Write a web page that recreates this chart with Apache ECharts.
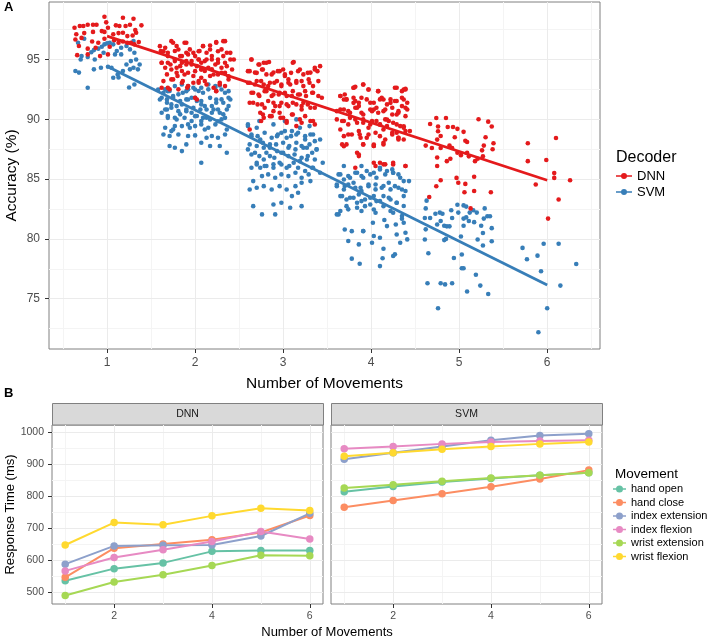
<!DOCTYPE html>
<html><head><meta charset="utf-8">
<script src="https://cdn.jsdelivr.net/npm/echarts@6/dist/echarts.min.js"></script>
<style>html,body{margin:0;padding:0;background:#fff}#c{width:708px;height:639px}</style>
</head><body><div id="c"></div>
<script>
// ---------- Panel A : accuracy per number of movements (jittered points) ----------
const dnnG1 = [[0.97,98.57],[1.18,98.48],[1.30,98.4],[0.63,97.65],[0.69,97.8],[0.73,97.8],[0.78,97.9],[0.84,97.9],[0.88,97.9],[0.99,98.1],[1.01,97.65],[1.10,97.85],[1.14,97.8],[1.21,97.8],[1.26,97.9],[1.32,97.45],[1.39,97.85],[0.65,97.1],[0.74,97.2],[0.84,97.3],[0.94,97.37],[0.97,97.3],[1.07,97.1],[1.13,97.2],[1.18,97.23],[1.23,96.95],[1.29,97.0],[1.33,97.23],[0.64,96.67],[0.71,96.8],[0.83,96.5],[0.90,96.4],[0.97,96.73],[1.08,96.6],[1.18,96.5],[1.23,96.4],[1.31,96.26],[1.36,96.45],[0.68,96.12],[0.78,95.9],[0.87,95.98],[1.03,96.06],[0.92,95.28],[0.66,95.36],[0.78,95.42],[1.01,95.42],[1.27,96.4],[1.13,96.4]];
const svmG1 = [[0.67,96.4],[0.74,96.73],[0.71,95.28],[0.78,95.2],[0.82,95.6],[0.85,95.78],[0.90,95.9],[0.94,96.06],[0.97,96.26],[1.00,96.34],[1.03,96.4],[1.07,96.26],[1.11,95.7],[1.16,95.98],[1.22,96.12],[1.26,95.84],[1.30,96.54],[1.31,95.56],[1.33,95.0],[1.37,94.58],[1.35,94.17],[1.26,94.17],[1.18,94.03],[1.12,93.75],[1.07,93.47],[1.05,94.3],[1.01,94.39],[0.93,94.3],[0.85,94.17],[0.78,92.63],[0.64,94.03],[0.68,93.9],[0.70,95.0],[1.09,95.42],[1.27,94.86],[1.31,92.91],[1.22,94.58],[0.86,95.0],[0.96,95.56],[1.16,95.42],[1.30,94.3],[1.25,92.66],[1.13,93.5]];
const dnnG2 = [[1.73,96.53],[1.79,96.12],[1.88,96.4],[1.66,95.98],[1.61,95.7],[1.69,95.28],[1.77,95.7],[1.83,95.28],[1.90,95.56],[1.94,95.84],[2.00,95.28],[2.05,95.7],[2.09,96.12],[2.17,96.17],[2.24,96.45],[2.32,96.53],[2.30,95.84],[2.36,95.56],[2.40,95.0],[2.34,94.72],[2.26,95.0],[2.19,95.28],[2.13,95.0],[2.07,94.72],[2.02,94.44],[1.96,94.58],[1.90,94.86],[1.85,94.72],[1.79,94.3],[1.72,94.58],[1.66,94.3],[1.62,94.72],[1.68,93.75],[1.73,93.33],[1.80,93.61],[1.86,93.19],[1.92,93.89],[1.98,93.61],[2.04,93.19],[2.11,94.03],[2.19,94.17],[2.26,93.75],[2.34,93.89],[2.38,93.33],[2.28,92.91],[2.21,92.63],[2.13,92.91],[2.07,93.47],[1.71,92.5],[1.81,92.5],[2.00,91.8],[1.98,93.05],[1.91,92.63],[1.62,92.63],[2.24,92.36],[2.04,95.0],[2.13,95.56],[2.23,94.58],[1.85,94.03],[1.77,95.0],[2.30,94.3],[2.07,94.17],[2.17,93.61]];
const dnnG2b = [[1.60,96.11],[1.64,95.69],[1.69,95.55],[1.75,96.39],[1.81,95.83],[1.90,96.39],[1.85,95.28],[1.92,95.42],[1.98,95.55],[2.04,95.69],[2.09,96.11],[2.17,95.83],[2.24,96.39],[2.34,96.53],[2.26,95.69],[2.32,95.28],[2.40,95.55],[2.44,95.0],[1.62,94.72],[1.69,94.72],[1.77,94.86],[1.83,94.44],[1.90,94.58],[1.96,94.86],[2.04,95.0],[2.11,94.86],[2.19,95.0],[2.26,94.72],[2.36,94.44],[2.42,94.16],[1.73,94.16],[1.79,93.88],[1.88,93.74],[2.00,94.02],[2.07,94.16],[2.15,94.3],[2.21,93.74],[2.30,93.88],[2.38,93.6],[1.64,93.19],[1.75,93.33],[1.85,93.05],[2.04,93.05],[2.11,93.19],[2.28,93.05],[2.34,92.77],[1.69,92.63],[1.92,92.77],[2.24,92.35],[2.02,91.65]];
const svmG2 = [[1.66,92.5],[1.71,92.36],[1.62,91.8],[1.68,91.66],[1.75,91.94],[1.81,92.08],[1.86,92.22],[1.92,92.5],[1.98,92.63],[2.04,92.36],[2.09,92.22],[2.15,92.5],[2.23,92.63],[2.28,92.83],[2.34,92.22],[2.38,91.8],[2.30,91.66],[2.24,91.38],[2.19,91.1],[2.13,90.82],[2.07,91.24],[2.02,91.52],[1.96,91.8],[1.90,91.66],[1.85,91.24],[1.79,91.1],[1.73,91.24],[1.68,90.82],[1.62,90.55],[1.69,90.27],[1.77,90.13],[1.83,90.41],[1.90,90.68],[1.96,90.55],[2.02,90.27],[2.07,89.85],[2.13,90.13],[2.19,90.55],[2.26,90.82],[2.32,90.41],[2.38,91.1],[2.30,89.99],[2.23,89.57],[2.15,89.29],[2.07,89.57],[2.00,89.43],[1.92,89.57],[1.85,89.43],[1.75,89.15],[1.66,89.29],[1.64,88.73],[1.71,88.6],[1.81,88.73],[1.92,88.6],[2.00,88.65],[2.13,88.46],[2.19,88.6],[2.34,88.73],[1.71,87.76],[1.77,87.62],[1.90,87.9],[2.07,88.04],[2.17,87.76],[2.28,87.76],[2.36,87.2],[2.07,86.37],[1.85,87.34],[1.73,89.01],[1.96,89.85],[2.26,88.46]];
const svmG2b = [[1.58,92.49],[1.64,92.21],[1.69,92.35],[1.77,92.77],[1.85,92.91],[1.92,92.77],[1.90,92.35],[2.00,92.49],[2.07,92.63],[2.15,92.91],[2.23,92.77],[2.30,92.49],[2.38,92.35],[1.60,91.65],[1.68,91.38],[1.75,91.79],[1.83,91.52],[1.92,91.65],[2.00,91.79],[2.07,91.52],[2.17,91.79],[2.24,91.65],[2.32,91.38],[2.40,91.65],[1.66,90.82],[1.73,90.96],[1.81,90.68],[1.90,90.82],[1.98,90.96],[2.06,90.82],[2.11,91.1],[2.21,90.82],[2.28,90.54],[2.36,90.82],[1.69,90.12],[1.79,89.98],[1.88,90.12],[2.00,90.26],[2.09,90.12],[2.17,89.98],[2.26,89.84],[2.34,90.12],[1.77,89.43],[1.94,89.29],[2.11,89.15],[2.36,89.15]];
const dnnG3 = [[2.64,95.0],[2.72,94.58],[2.78,94.72],[2.84,94.78],[3.12,94.78],[2.60,94.02],[2.68,93.9],[2.76,94.16],[2.81,93.75],[2.89,93.9],[2.96,94.02],[3.02,93.75],[3.06,93.33],[3.00,94.16],[3.17,94.02],[3.23,93.75],[3.31,93.9],[3.36,94.3],[3.39,94.02],[2.62,93.05],[2.70,93.19],[2.78,92.91],[2.85,93.05],[2.93,93.19],[2.98,92.77],[3.08,92.91],[3.15,93.05],[3.21,93.19],[3.29,93.33],[3.34,92.77],[2.64,92.21],[2.72,92.07],[2.79,92.35],[2.87,91.94],[2.95,92.07],[3.02,92.21],[3.10,91.94],[3.17,92.07],[3.25,92.35],[3.33,92.21],[3.40,91.94],[2.66,91.38],[2.76,91.24],[2.83,91.52],[2.91,91.1],[2.98,91.38],[3.06,91.1],[3.15,91.24],[3.23,91.38],[3.31,90.96],[2.74,90.54],[2.85,90.26],[2.97,90.12],[3.10,90.4],[3.19,89.99],[3.31,89.85],[3.36,89.57],[2.62,89.15],[2.78,90.12],[3.04,89.85],[3.21,90.82],[2.89,90.68],[3.15,89.43]];
const dnnG3b = [[2.64,95.0],[2.73,94.58],[2.81,94.72],[3.11,94.72],[2.62,94.02],[2.70,93.88],[2.77,94.16],[2.87,93.75],[2.94,94.02],[3.02,93.61],[3.09,93.88],[3.19,94.16],[3.28,93.88],[3.36,94.16],[3.42,94.44],[2.60,93.05],[2.68,92.91],[2.75,93.19],[2.83,92.77],[2.90,93.05],[2.98,92.91],[3.06,93.05],[3.15,93.19],[3.23,92.77],[3.30,93.05],[3.40,93.19],[2.66,92.21],[2.73,91.94],[2.81,92.35],[2.89,92.07],[2.96,92.21],[3.04,91.94],[3.11,92.35],[3.19,92.07],[3.26,91.94],[3.34,92.21],[3.44,91.8],[2.62,91.38],[2.71,91.24],[2.79,90.96],[2.89,91.38],[2.96,91.1],[3.04,91.24],[3.11,91.38],[3.21,91.1],[3.28,91.24],[3.36,90.96],[2.77,90.4],[2.87,90.26],[2.96,90.54],[3.11,90.4],[3.25,90.26],[3.34,89.85],[2.75,89.85],[3.04,89.71],[3.21,89.71],[3.00,90.12]];
const svmG3 = [[2.60,89.57],[2.70,89.29],[2.64,88.59],[2.74,88.31],[2.60,87.48],[2.68,87.2],[2.78,87.62],[2.85,87.9],[2.93,88.59],[2.98,88.87],[3.04,88.45],[3.10,89.01],[3.15,88.73],[3.19,89.29],[3.25,88.31],[3.31,88.73],[3.36,88.17],[3.38,87.48],[3.33,87.2],[3.27,87.62],[3.21,87.76],[3.14,87.48],[3.06,87.62],[3.00,87.2],[2.93,87.34],[2.85,86.92],[2.78,86.64],[2.70,86.36],[2.64,85.95],[2.74,85.95],[2.81,86.09],[2.89,86.23],[2.96,86.36],[3.04,85.95],[3.12,86.36],[3.19,86.5],[3.27,86.64],[3.33,85.95],[3.29,85.39],[3.21,85.11],[3.14,85.53],[3.06,85.25],[2.98,85.39],[2.91,85.11],[2.83,85.39],[2.76,85.25],[2.66,84.83],[2.62,84.13],[2.70,84.28],[2.78,84.41],[2.87,84.13],[2.96,84.41],[3.04,84.13],[3.14,84.41],[3.21,84.69],[3.10,83.58],[3.17,83.86],[2.89,82.88],[2.98,83.02],[2.66,82.74],[2.76,82.05],[2.91,82.05],[3.08,82.6],[3.21,82.74],[3.31,84.83]];
const svmG3b = [[2.60,89.43],[2.73,89.85],[2.89,89.57],[3.02,89.85],[3.15,89.99],[3.30,89.43],[2.64,88.73],[2.71,88.59],[2.79,88.87],[2.87,88.45],[2.94,88.73],[3.02,89.01],[3.09,88.59],[3.17,88.87],[3.25,88.59],[3.34,88.73],[3.42,88.31],[2.62,87.9],[2.70,87.76],[2.77,88.04],[2.85,87.62],[2.92,87.9],[3.00,88.04],[3.07,87.76],[3.15,88.04],[3.23,87.62],[3.30,87.9],[3.38,87.48],[2.64,87.06],[2.73,86.92],[2.81,87.2],[2.90,86.78],[2.98,87.2],[3.06,86.92],[3.13,87.06],[3.21,86.78],[3.28,86.92],[3.36,86.64],[3.45,86.36],[2.70,86.22],[2.79,86.09],[2.89,85.95],[2.98,86.22],[3.07,86.09],[3.17,85.95],[3.25,85.67],[3.34,85.95],[3.42,85.53]];
const dnnG4 = [[3.82,92.71],[3.91,92.91],[4.08,92.35],[4.37,92.49],[3.65,91.94],[3.72,91.66],[3.70,92.07],[3.80,91.8],[3.86,91.38],[3.95,91.66],[4.03,91.38],[4.12,91.8],[4.22,91.66],[4.29,91.52],[4.35,91.1],[3.65,90.82],[3.74,90.68],[3.82,90.96],[3.89,90.54],[3.99,90.82],[4.06,90.96],[4.14,90.68],[4.24,90.96],[4.31,90.54],[4.39,90.26],[3.61,89.99],[3.69,89.85],[3.76,90.12],[3.84,89.71],[3.91,89.99],[3.99,89.57],[4.06,89.85],[4.16,89.99],[4.25,89.71],[4.33,89.43],[4.39,89.01],[3.65,89.15],[3.74,88.73],[3.86,89.01],[3.95,88.45],[4.05,88.87],[4.14,89.15],[4.24,88.87],[4.31,88.45],[3.72,87.9],[3.91,87.9],[4.03,87.76],[4.14,88.03],[4.37,88.31],[3.86,86.92],[3.82,85.95],[4.05,86.09],[4.16,86.23],[4.39,86.09],[3.97,89.29],[4.18,89.43],[3.80,92.63],[3.97,92.49],[4.14,91.65],[4.27,92.63],[4.35,92.35],[4.39,92.54],[3.69,91.65],[3.80,91.37],[3.86,91.1],[4.03,90.82],[4.22,91.37],[4.37,91.65],[4.41,90.82],[4.29,90.4],[4.18,89.98],[4.37,89.42],[4.29,88.87],[4.10,89.56],[3.87,88.73],[4.03,87.89],[4.16,88.31],[4.31,88.31],[3.84,87.2],[3.69,87.75],[4.10,86.36],[4.25,86.22]];
const dnnG4b = [[3.80,92.63],[3.91,92.91],[3.97,92.49],[4.08,92.35],[4.29,92.63],[4.39,92.49],[3.65,91.94],[3.72,91.66],[3.82,91.52],[3.89,91.8],[3.99,91.38],[4.10,91.66],[4.18,91.24],[4.27,91.52],[4.35,91.8],[4.41,91.38],[3.61,90.68],[3.69,90.82],[3.76,90.54],[3.84,90.96],[3.91,90.4],[4.01,90.68],[4.08,90.54],[4.16,90.82],[4.24,90.4],[4.31,90.68],[4.39,90.96],[3.67,89.85],[3.74,89.57],[3.82,89.99],[3.91,89.71],[4.01,89.85],[4.10,89.57],[4.20,89.85],[4.29,89.57],[4.37,89.29],[4.44,89.01],[3.69,88.59],[3.78,88.73],[3.88,88.45],[3.97,88.73],[4.10,88.59],[4.24,88.73],[4.31,88.45],[3.67,87.9],[3.91,87.9],[4.03,87.76],[4.14,87.9],[3.86,87.06],[4.03,86.37],[4.14,86.23],[4.25,86.37],[4.39,86.09]];
const svmG4 = [[3.63,85.39],[3.69,84.97],[3.76,85.11],[3.84,85.53],[3.89,85.25],[3.95,85.67],[4.03,85.53],[4.10,85.81],[4.18,85.67],[4.25,85.53],[4.31,85.39],[4.37,84.83],[3.61,84.41],[3.69,84.13],[3.74,84.55],[3.82,84.28],[3.89,84.0],[3.97,84.41],[4.05,84.55],[4.12,84.28],[4.20,84.69],[4.27,84.41],[4.35,84.13],[3.65,83.58],[3.72,83.3],[3.80,83.44],[3.89,83.16],[3.99,83.44],[4.06,83.16],[4.14,83.58],[4.22,83.3],[4.29,83.02],[4.37,83.58],[3.63,82.05],[3.72,82.74],[3.84,82.6],[3.93,82.74],[4.03,82.46],[4.14,82.74],[4.25,82.19],[4.37,81.35],[3.70,80.79],[3.78,80.65],[3.91,80.65],[4.03,80.24],[4.18,81.07],[4.29,80.37],[3.74,79.82],[3.86,79.54],[3.61,82.05],[3.78,78.35],[3.87,77.93],[4.10,77.73],[4.13,78.38],[4.14,79.18],[4.25,78.57],[4.27,78.71],[4.33,79.68],[4.41,79.96],[4.39,80.52],[4.01,79.68],[4.10,80.1],[4.15,81.58],[4.28,81.2],[4.35,81.69],[4.02,81.35],[3.91,80.66]];
const svmG4b = [[3.69,86.09],[3.89,86.09],[4.10,85.95],[4.24,85.81],[3.65,85.39],[3.74,85.25],[3.82,85.53],[3.91,85.11],[3.99,85.39],[4.06,85.11],[4.16,85.39],[4.25,85.53],[4.33,85.11],[4.43,84.83],[3.61,84.55],[3.70,84.42],[3.80,84.69],[3.88,84.28],[3.97,84.55],[4.05,84.14],[4.14,84.42],[4.22,84.14],[4.31,84.28],[4.39,84.0],[3.67,83.58],[3.76,83.44],[3.86,83.72],[3.93,83.3],[4.03,83.58],[4.10,83.16],[4.20,83.44],[4.29,83.02],[4.37,82.75],[3.84,83.02],[3.99,82.88],[3.65,82.33],[3.74,82.47],[3.89,82.33],[4.05,82.19],[4.22,82.33],[4.35,81.91]];
const dnnG5 = [[4.74,90.1],[4.85,90.1],[4.67,89.6],[4.76,89.4],[4.76,89.0],[4.87,89.35],[4.93,89.35],[4.98,89.2],[5.05,88.95],[5.22,90.0],[5.33,89.8],[5.37,89.4],[4.79,88.6],[4.75,88.3],[4.95,88.5],[5.07,88.2],[5.09,88.1],[5.30,88.5],[4.62,87.8],[4.69,87.6],[4.79,87.6],[4.89,87.8],[4.92,87.6],[4.98,87.2],[5.02,87.0],[5.09,87.2],[5.11,86.9],[5.18,86.5],[5.21,86.7],[5.26,87.4],[5.28,87.8],[5.27,86.9],[5.39,88.0],[5.38,87.5],[4.75,86.8],[4.86,86.5],[4.90,86.7],[4.75,86.1],[4.79,84.9],[4.74,84.4],[4.97,85.1],[4.99,84.7],[5.07,84.6],[5.17,85.2],[4.66,83.5],[5.06,83.9],[5.17,84.0],[5.36,83.9],[5.13,82.55]];
const svmG5 = [[4.63,83.2],[4.62,82.55],[4.61,81.75],[4.67,81.75],[4.62,80.8],[4.61,79.95],[4.65,78.8],[4.64,76.3],[4.76,74.2],[4.73,82.1],[4.78,82.2],[4.81,82.1],[4.75,81.2],[4.79,81.5],[4.83,81.1],[4.86,81.05],[4.89,81.05],[4.91,82.4],[4.92,81.75],[4.98,82.85],[4.99,82.2],[4.83,79.9],[4.85,80.0],[4.94,78.4],[4.79,76.3],[4.84,76.2],[4.92,76.3],[5.02,80.2],[5.03,78.7],[5.03,77.55],[5.05,77.55],[5.05,82.8],[5.08,82.7],[5.05,81.7],[5.08,81.8],[5.05,81.1],[5.11,81.5],[5.12,82.2],[5.17,81.4],[5.16,82.4],[5.20,82.2],[5.29,82.55],[5.28,81.7],[5.32,81.9],[5.35,81.9],[5.25,81.1],[5.37,80.9],[5.27,80.5],[5.21,79.95],[5.27,79.45],[5.37,79.8],[5.19,77.0],[5.09,75.6],[5.24,76.1],[5.33,75.4]];
const dnnG6 = [[5.78,88.0],[6.10,88.44],[5.78,86.5],[5.99,86.6],[6.08,85.5],[6.08,85.1],[6.26,84.9],[5.87,84.55],[6.13,83.3],[6.01,81.7]];
const svmG6 = [[5.72,79.25],[5.96,79.6],[6.13,79.6],[5.77,78.3],[5.89,78.6],[6.33,77.9],[5.93,77.3],[6.15,76.1],[6.00,74.2],[5.90,72.2]];
// linear fits (accuracy at 1 and 6 movements)
const dnnFit = [[1, 96.95], [6, 84.9]];
const svmFit = [[1, 94.44], [6, 76.14]];
const accTicks = [75, 80, 85, 90, 95];
const accMinor = [72.5, 77.5, 82.5, 87.5, 92.5, 97.5];
const moveTicks = [1, 2, 3, 4, 5, 6];
const moveMinor = [0.5, 1.5, 2.5, 3.5, 4.5, 5.5, 6.5];

// ---------- Panel B : response time ----------
const movements = ['hand open', 'hand close', 'index extension', 'index flexion', 'wrist extension', 'wrist flexion'];
const nMoves = [1, 2, 3, 4, 5, 6];
const rtDNN = {
  'hand open':       [535, 573, 591, 627, 630, 630],
  'hand close':      [546, 637, 650, 663, 686, 739],
  'index extension': [587, 644, 646, 647, 675, 746],
  'index flexion':   [566, 608, 632, 658, 689, 666],
  'wrist extension': [489, 531, 554, 583, 615, 613],
  'wrist flexion':   [647, 717, 710, 738, 762, 755]
};
const rtSVM = {
  'hand open':       [813, 830, 844, 855, 865, 873],
  'hand close':      [765, 786, 807, 829, 853, 881],
  'index extension': [915, 935, 955, 974, 989, 995],
  'index flexion':   [948, 955, 963, 969, 972, 974],
  'wrist extension': [825, 835, 846, 856, 865, 873],
  'wrist flexion':   [924, 935, 946, 955, 963, 969]
};
const rtTicks = [500, 600, 700, 800, 900, 1000];
const rtMinor = [550, 650, 750, 850, 950];
const rtXTicks = [2, 4, 6];
const rtXMinor = [1, 3, 5];

// ---------- styles ----------
const FONT = 'Liberation Sans, Arial, sans-serif';
const RED = '#E41A1C', BLUE = '#377EB8';
const SET2 = ['#66C2A5', '#FC8D62', '#8DA0CB', '#E78AC3', '#A6D854', '#FFD92F'];
const GRID_MAJOR = '#ebebeb', GRID_MINOR = '#f4f4f4';
const TICK = '#333333', LABEL = '#4d4d4d';

function gridLines(xMaj, xMin, yMaj, yMin) {
  const d = [];
  xMin.forEach(v => d.push({ xAxis: v, lineStyle: { color: GRID_MINOR, width: 1, type: 'solid' } }));
  yMin.forEach(v => d.push({ yAxis: v, lineStyle: { color: GRID_MINOR, width: 1, type: 'solid' } }));
  xMaj.forEach(v => d.push({ xAxis: v, lineStyle: { color: GRID_MAJOR, width: 1, type: 'solid' } }));
  yMaj.forEach(v => d.push({ yAxis: v, lineStyle: { color: GRID_MAJOR, width: 1, type: 'solid' } }));
  return { silent: true, symbol: ['none', 'none'], label: { show: false }, z: 1, animation: false, data: d };
}

function valueAxis(o) {
  return Object.assign({
    type: 'value', scale: true,
    axisLine: { show: false },
    splitLine: { show: false },
    axisTick: { show: true, length: 4, lineStyle: { color: TICK } },
    axisLabel: { color: LABEL, fontFamily: FONT }
  }, o);
}
const plain = v => String(v);

const chart = echarts.init(document.getElementById('c'), null, { renderer: 'canvas' });

const series = [];
// grid lines (panel A)
series.push({ type: 'line', xAxisIndex: 0, yAxisIndex: 0, data: [], silent: true, markLine: gridLines(moveTicks, moveMinor, accTicks, accMinor) });
const svmAll = [svmG1, svmG2, svmG2b, svmG3, svmG3b, svmG4, svmG4b, svmG5, svmG6];
const dnnAll = [dnnG1, dnnG2, dnnG2b, dnnG3, dnnG3b, dnnG4, dnnG4b, dnnG5, dnnG6];
svmAll.forEach(g => series.push({ type: 'scatter', name: 'SVM', xAxisIndex: 0, yAxisIndex: 0, data: g, symbolSize: 4.6, itemStyle: { color: BLUE, opacity: 1 }, z: 3, silent: true }));
dnnAll.forEach(g => series.push({ type: 'scatter', name: 'DNN', xAxisIndex: 0, yAxisIndex: 0, data: g, symbolSize: 4.6, itemStyle: { color: RED, opacity: 1 }, z: 3, silent: true }));
series.push({ type: 'line', name: 'DNN', xAxisIndex: 0, yAxisIndex: 0, data: dnnFit, showSymbol: false, lineStyle: { color: RED, width: 2.8 }, itemStyle: { color: RED }, z: 4, silent: true });
series.push({ type: 'line', name: 'SVM', xAxisIndex: 0, yAxisIndex: 0, data: svmFit, showSymbol: false, lineStyle: { color: BLUE, width: 2.8 }, itemStyle: { color: BLUE }, z: 4, silent: true });

// panel B grid lines
series.push({ type: 'line', xAxisIndex: 1, yAxisIndex: 1, data: [], silent: true, markLine: gridLines(rtXTicks, rtXMinor, rtTicks, rtMinor) });
series.push({ type: 'line', xAxisIndex: 2, yAxisIndex: 2, data: [], silent: true, markLine: gridLines(rtXTicks, rtXMinor, rtTicks, rtMinor) });
movements.forEach((m, i) => {
  const common = { type: 'line', name: m, symbol: 'circle', symbolSize: 7.5, showSymbol: true,
    lineStyle: { color: SET2[i], width: 2 }, itemStyle: { color: SET2[i] }, z: 3, silent: true };
  series.push(Object.assign({}, common, { xAxisIndex: 1, yAxisIndex: 1, data: nMoves.map((n, k) => [n, rtDNN[m][k]]) }));
  series.push(Object.assign({}, common, { xAxisIndex: 2, yAxisIndex: 2, data: nMoves.map((n, k) => [n, rtSVM[m][k]]) }));
});

const iconA = 'path://M0,2.3H16V3.7H0Z M5,3A3,3,0,1,1,11,3A3,3,0,1,1,5,3Z';
const iconB = 'path://M0,3H13V4.4H0Z M3,3.7A3.5,3.5,0,1,1,10,3.7A3.5,3.5,0,1,1,3,3.7Z';

const gridBase = { show: true, borderColor: '#808080', borderWidth: 1, backgroundColor: 'transparent', containLabel: false, outerBoundsMode: 'none' };
const option = {
  animation: false,
  backgroundColor: '#ffffff',
  textStyle: { fontFamily: FONT },
  grid: [
    Object.assign({ left: 49, top: 2, width: 551, height: 347 }, gridBase),
    Object.assign({ left: 52, top: 425, width: 271, height: 179 }, gridBase),
    Object.assign({ left: 331, top: 425, width: 271, height: 179 }, gridBase)
  ],
  xAxis: [
    valueAxis({ gridIndex: 0, min: 0.34, max: 6.6,
      name: 'Number of Movements', nameLocation: 'middle', nameGap: 27,
      nameTextStyle: { fontSize: 15.5, color: '#000', fontFamily: FONT },
      axisTick: { show: true, length: 4, lineStyle: { color: TICK }, customValues: moveTicks },
      axisLabel: { color: LABEL, fontSize: 12, margin: 8, fontFamily: FONT, customValues: moveTicks, formatter: plain } }),
    valueAxis({ gridIndex: 1, min: 0.73, max: 6.27,
      axisTick: { show: true, length: 4, lineStyle: { color: TICK }, customValues: rtXTicks },
      axisLabel: { color: LABEL, fontSize: 10.5, margin: 7, fontFamily: FONT, customValues: rtXTicks, formatter: plain } }),
    valueAxis({ gridIndex: 2, min: 0.73, max: 6.27,
      axisTick: { show: true, length: 4, lineStyle: { color: TICK }, customValues: rtXTicks },
      axisLabel: { color: LABEL, fontSize: 10.5, margin: 7, fontFamily: FONT, customValues: rtXTicks, formatter: plain } })
  ],
  yAxis: [
    valueAxis({ gridIndex: 0, min: 70.8, max: 99.8,
      name: 'Accuracy (%)', nameLocation: 'middle', nameGap: 29, nameMoveOverlap: false,
      nameTextStyle: { fontSize: 15.5, color: '#000', fontFamily: FONT },
      axisTick: { show: true, length: 4, lineStyle: { color: TICK }, customValues: accTicks },
      axisLabel: { color: LABEL, fontSize: 12, margin: 9, fontFamily: FONT, customValues: accTicks, formatter: plain } }),
    valueAxis({ gridIndex: 1, min: 462.5, max: 1022,
      name: 'Response Time (ms)', nameLocation: 'middle', nameGap: 35, nameMoveOverlap: false,
      nameTextStyle: { fontSize: 13, color: '#000', fontFamily: FONT },
      axisTick: { show: true, length: 4, lineStyle: { color: TICK }, customValues: rtTicks },
      axisLabel: { color: LABEL, fontSize: 10.5, margin: 8, fontFamily: FONT, customValues: rtTicks, formatter: plain } }),
    valueAxis({ gridIndex: 2, min: 462.5, max: 1022,
      axisTick: { show: false }, axisLabel: { show: false } })
  ],
  legend: [
    { data: [{ name: 'DNN', icon: iconA }, { name: 'SVM', icon: iconA }],
      orient: 'vertical', left: 616, top: 169, itemWidth: 16, itemHeight: 6, itemGap: 2, padding: 0,
      selectedMode: false, textStyle: { fontSize: 13, lineHeight: 14, color: '#000', fontFamily: FONT } },
    { data: movements.map(m => ({ name: m, icon: iconB })),
      orient: 'vertical', left: 613, top: 483, itemWidth: 13, itemHeight: 7, itemGap: 1.5, padding: 0,
      selectedMode: false, textStyle: { fontSize: 11, lineHeight: 12, color: '#000', fontFamily: FONT } }
  ],
  graphic: [
    { type: 'text', x: 4, y: 1, style: { text: 'A', font: 'bold 13px ' + FONT, fill: '#000' } },
    { type: 'text', x: 4, y: 387, style: { text: 'B', font: 'bold 13px ' + FONT, fill: '#000' } },
    { type: 'text', x: 616, y: 158, style: { text: 'Decoder', font: '16px ' + FONT, fill: '#000', verticalAlign: 'middle', textVerticalAlign: 'middle' } },
    { type: 'text', x: 615, y: 474, style: { text: 'Movement', font: '13.5px ' + FONT, fill: '#000', verticalAlign: 'middle', textVerticalAlign: 'middle' } },
    { type: 'rect', shape: { x: 52.5, y: 403.5, width: 271, height: 21.5 }, style: { fill: '#d9d9d9', stroke: '#808080', lineWidth: 1 } },
    { type: 'rect', shape: { x: 331.5, y: 403.5, width: 271, height: 21.5 }, style: { fill: '#d9d9d9', stroke: '#808080', lineWidth: 1 } },
    { type: 'text', x: 187.5, y: 414.5, style: { text: 'DNN', font: '10.5px ' + FONT, fill: '#1a1a1a', align: 'center', textAlign: 'center', verticalAlign: 'middle', textVerticalAlign: 'middle' } },
    { type: 'text', x: 466.5, y: 414.5, style: { text: 'SVM', font: '10.5px ' + FONT, fill: '#1a1a1a', align: 'center', textAlign: 'center', verticalAlign: 'middle', textVerticalAlign: 'middle' } },
    { type: 'text', x: 327, y: 632, style: { text: 'Number of Movements', font: '13px ' + FONT, fill: '#000', align: 'center', textAlign: 'center', verticalAlign: 'middle', textVerticalAlign: 'middle' } }
  ],
  series: series
};
chart.setOption(option);
</script></body></html>
